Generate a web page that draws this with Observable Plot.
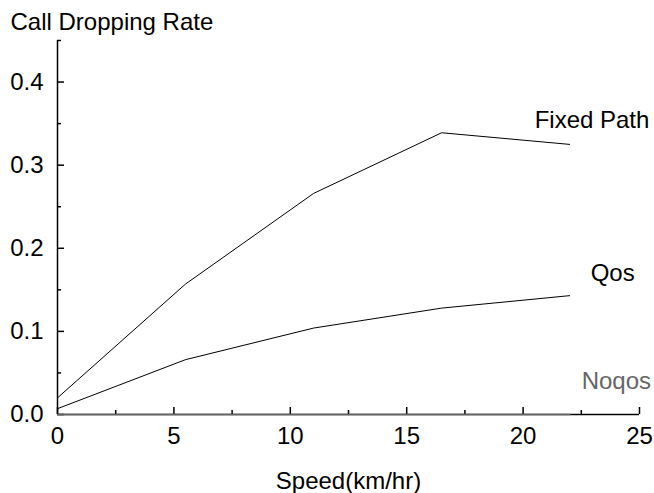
<!DOCTYPE html>
<html>
<head>
<meta charset="utf-8">
<script src="https://cdn.jsdelivr.net/npm/d3@7"></script>
<script src="https://cdn.jsdelivr.net/npm/@observablehq/plot@0.6"></script>
<style>
  body { margin: 0; background: #fff; }
  svg { font-family: "Liberation Sans", Arial, sans-serif; }
</style>
</head>
<body>
<div id="chart"></div>
<script>
const speeds = [0, 5.5, 11, 16.5, 22];
const fixedPath = [0.02, 0.157, 0.266, 0.339, 0.325];
const qos = [0.007, 0.066, 0.104, 0.128, 0.143];
const noqos = [0, 0, 0, 0, 0];
const seriesNames = ["Fixed Path", "Qos", "Noqos"];
const xTicks = [0, 5, 10, 15, 20, 25];
const xMinor = [2.5, 7.5, 12.5, 17.5, 22.5];
const yTicks = [0, 0.1, 0.2, 0.3, 0.4];
const yMinor = [0.05, 0.15, 0.25, 0.35, 0.45];
const yTitle = "Call Dropping Rate";
const xTitle = "Speed(km/hr)";

const seriesValues = [fixedPath, qos, noqos];
const seriesColor = {"Fixed Path": "#000", "Qos": "#000", "Noqos": "#666"};
const labelOffset = {"Fixed Path": [-35, -24], "Qos": [21, -22], "Noqos": [12, -33]};

const rows = [];
seriesNames.forEach((name, i) => speeds.forEach((s, j) => rows.push({series: name, speed: s, rate: seriesValues[i][j]})));
const lasts = seriesNames.map((name, i) => ({series: name, speed: speeds[speeds.length - 1], rate: seriesValues[i][speeds.length - 1]}));

const FS = 24;
const chart = Plot.plot({
  width: 654,
  height: 493,
  marginLeft: 57,
  marginRight: 15,
  marginTop: 40,
  marginBottom: 79,
  style: {fontFamily: "Liberation Sans, Arial, sans-serif", fontSize: FS + "px", color: "#000", background: "#fff"},
  x: {domain: [0, 25]},
  y: {domain: [0, 0.45]},
  marks: [
    Plot.ruleX([0], {stroke: "#000", strokeWidth: 1.5}),
    Plot.ruleY([0], {stroke: "#000", strokeWidth: 1.5}),
    Plot.axisY({ticks: yTicks, tickSize: -7, tickPadding: 21, tickFormat: d3.format(".1f"), label: null, strokeWidth: 1.5, fontSize: FS}),
    Plot.axisY({ticks: yMinor, tickSize: -4, tickFormat: () => "", label: null, strokeWidth: 1.5}),
    Plot.axisX({ticks: xTicks, tickSize: -7, tickPadding: 19, tickFormat: d3.format("d"), label: null, strokeWidth: 1.5, fontSize: FS}),
    Plot.axisX({ticks: xMinor, tickSize: -4, tickFormat: () => "", label: null, strokeWidth: 1.5}),
    Plot.line(rows.filter(d => d.series !== "Noqos"), {x: "speed", y: "rate", z: "series", stroke: "#000", strokeWidth: 1}),
    Plot.line(rows.filter(d => d.series === "Noqos"), {x: "speed", y: "rate", stroke: "#666", strokeWidth: 1.5}),
    ...lasts.map(d => Plot.text([d], {x: "speed", y: "rate", text: "series", textAnchor: "start", fill: seriesColor[d.series], dx: labelOffset[d.series][0], dy: labelOffset[d.series][1], fontSize: FS})),
    Plot.text([yTitle], {frameAnchor: "top-left", text: d => d, textAnchor: "start", dx: -47, dy: -28, fontSize: FS}),
    Plot.text([xTitle], {frameAnchor: "bottom", text: d => d, lineAnchor: "top", dy: 57, fontSize: FS})
  ]
});
document.getElementById("chart").appendChild(chart);
</script>
</body>
</html>
